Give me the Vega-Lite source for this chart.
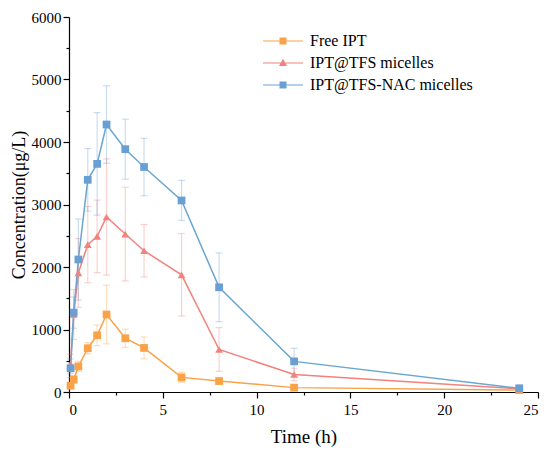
{
  "$schema": "https://vega.github.io/schema/vega-lite/v6.json",
  "width": 469,
  "height": 375,
  "autosize": "none",
  "padding": {"left": 69, "top": 17, "right": 12, "bottom": 63},
  "background": "white",
  "config": {"view": {"stroke": null}, "font": "Liberation Serif, Times New Roman, serif"},
  "data": {"values": [
    {"series": "Free IPT", "t": 0.083, "mean": 100, "sd": 30},
    {"series": "Free IPT", "t": 0.25, "mean": 200, "sd": 60},
    {"series": "Free IPT", "t": 0.5, "mean": 409, "sd": 80},
    {"series": "Free IPT", "t": 1, "mean": 700, "sd": 90},
    {"series": "Free IPT", "t": 1.5, "mean": 907, "sd": 165},
    {"series": "Free IPT", "t": 2, "mean": 1240, "sd": 470},
    {"series": "Free IPT", "t": 3, "mean": 860, "sd": 145},
    {"series": "Free IPT", "t": 4, "mean": 705, "sd": 175},
    {"series": "Free IPT", "t": 6, "mean": 234, "sd": 80},
    {"series": "Free IPT", "t": 8, "mean": 175, "sd": 30},
    {"series": "Free IPT", "t": 12, "mean": 70, "sd": 20},
    {"series": "Free IPT", "t": 24, "mean": 30, "sd": 10},
    {"series": "IPT@TFS micelles", "t": 0.083, "mean": 450, "sd": 150},
    {"series": "IPT@TFS micelles", "t": 0.25, "mean": 1240, "sd": 400},
    {"series": "IPT@TFS micelles", "t": 0.5, "mean": 1906, "sd": 550},
    {"series": "IPT@TFS micelles", "t": 1, "mean": 2357, "sd": 610},
    {"series": "IPT@TFS micelles", "t": 1.5, "mean": 2490, "sd": 580},
    {"series": "IPT@TFS micelles", "t": 2, "mean": 2800, "sd": 930},
    {"series": "IPT@TFS micelles", "t": 3, "mean": 2527, "sd": 750},
    {"series": "IPT@TFS micelles", "t": 4, "mean": 2260, "sd": 420},
    {"series": "IPT@TFS micelles", "t": 6, "mean": 1875, "sd": 660},
    {"series": "IPT@TFS micelles", "t": 8, "mean": 680, "sd": 350},
    {"series": "IPT@TFS micelles", "t": 12, "mean": 280, "sd": 100},
    {"series": "IPT@TFS micelles", "t": 24, "mean": 50, "sd": 30},
    {"series": "IPT@TFS-NAC micelles", "t": 0.083, "mean": 380, "sd": 150},
    {"series": "IPT@TFS-NAC micelles", "t": 0.25, "mean": 1270, "sd": 250},
    {"series": "IPT@TFS-NAC micelles", "t": 0.5, "mean": 2120, "sd": 650},
    {"series": "IPT@TFS-NAC micelles", "t": 1, "mean": 3395, "sd": 500},
    {"series": "IPT@TFS-NAC micelles", "t": 1.5, "mean": 3650, "sd": 820},
    {"series": "IPT@TFS-NAC micelles", "t": 2, "mean": 4280, "sd": 620},
    {"series": "IPT@TFS-NAC micelles", "t": 3, "mean": 3885, "sd": 480},
    {"series": "IPT@TFS-NAC micelles", "t": 4, "mean": 3600, "sd": 460},
    {"series": "IPT@TFS-NAC micelles", "t": 6, "mean": 3065, "sd": 320},
    {"series": "IPT@TFS-NAC micelles", "t": 8, "mean": 1675, "sd": 550},
    {"series": "IPT@TFS-NAC micelles", "t": 12, "mean": 490, "sd": 210},
    {"series": "IPT@TFS-NAC micelles", "t": 24, "mean": 60, "sd": 20}
  ]},
  "encoding": {
    "x": {
      "field": "t", "type": "quantitative",
      "scale": {"domain": [0, 25], "nice": false},
      "axis": {
        "title": "Time (h)",
        "values": [0, 2.5, 5, 7.5, 10, 12.5, 15, 17.5, 20, 22.5, 25],
        "labelExpr": "datum.value % 5 === 0 ? datum.label : ''",
        "grid": false,
        "ticks": true,
        "domainColor": "black", "domainWidth": 1.2,
        "tickColor": "black", "tickWidth": 1.2,
        "tickSize": {"condition": {"test": "datum.value % 5 === 0", "value": 6}, "value": 3},
        "labelPadding": 4,
        "labelFont": "Liberation Serif", "labelFontSize": 15, "labelColor": "black",
        "titleFont": "Liberation Serif", "titleFontSize": 19, "titleFontWeight": "normal", "titleColor": "black",
        "titlePadding": 10
      }
    },
    "y": {
      "field": "mean", "type": "quantitative",
      "scale": {"domain": [0, 6000], "nice": false},
      "axis": {
        "title": "Concentration(μg/L)",
        "values": [0, 500, 1000, 1500, 2000, 2500, 3000, 3500, 4000, 4500, 5000, 5500, 6000],
        "labelExpr": "datum.value % 1000 === 0 ? datum.label : ''",
        "format": "d",
        "grid": false,
        "ticks": true,
        "domainColor": "black", "domainWidth": 1.2,
        "tickColor": "black", "tickWidth": 1.2,
        "tickSize": {"condition": {"test": "datum.value % 1000 === 0", "value": 6}, "value": 3},
        "labelPadding": 2,
        "labelFont": "Liberation Serif", "labelFontSize": 15, "labelColor": "black",
        "titleFont": "Liberation Serif", "titleFontSize": 18, "titleFontWeight": "normal", "titleColor": "black",
        "titlePadding": 3
      }
    }
  },
  "layer": [
    {
      "mark": {"type": "errorbar", "ticks": {"size": 7}, "opacity": 0.35, "thickness": 1.2},
      "encoding": {
        "yError": {"field": "sd"},
        "color": {"field": "series", "type": "nominal", "legend": null,
          "scale": {"domain": ["Free IPT", "IPT@TFS micelles", "IPT@TFS-NAC micelles"], "range": ["#F9A248", "#F2827B", "#6A9FD3"]}}
      }
    },
    {
      "mark": {"type": "line", "strokeWidth": 1.5},
      "encoding": {
        "color": {"field": "series", "type": "nominal", "legend": null,
          "scale": {"domain": ["Free IPT", "IPT@TFS micelles", "IPT@TFS-NAC micelles"], "range": ["#F9A248", "#F2827B", "#6AA6D0"]}}
      }
    },
    {
      "mark": {"type": "point", "filled": true, "opacity": 1, "size": 60},
      "encoding": {
        "color": {"field": "series", "type": "nominal", "legend": null,
          "scale": {"domain": ["Free IPT", "IPT@TFS micelles", "IPT@TFS-NAC micelles"], "range": ["#F9A248", "#F2827B", "#6A9FD3"]}},
        "shape": {"field": "series", "type": "nominal", "legend": null,
          "scale": {"domain": ["Free IPT", "IPT@TFS micelles", "IPT@TFS-NAC micelles"], "range": ["square", "triangle-up", "square"]}}
      }
    },
    {
      "transform": [{"filter": "false"}],
      "mark": {"type": "point", "filled": true, "opacity": 1},
      "encoding": {
        "color": {"field": "series", "type": "nominal",
          "scale": {"domain": ["Free IPT", "IPT@TFS micelles", "IPT@TFS-NAC micelles"], "range": ["#F9A248", "#F2827B", "#6A9FD3"]},
          "legend": {"title": null, "orient": "none", "legendX": 203, "legendY": 13,
            "symbolSize": 400, "symbolOpacity": 1, "labelOffset": 16, "rowPadding": 3,
            "labelFont": "Liberation Serif", "labelFontSize": 16, "labelColor": "black", "labelLimit": 300}},
        "shape": {"field": "series", "type": "nominal",
          "scale": {"domain": ["Free IPT", "IPT@TFS micelles", "IPT@TFS-NAC micelles"],
            "range": ["M-2,-0.06H2V0.06H-2Z M-0.35,-0.35H0.35V0.35H-0.35Z", "M-2,-0.06H2V0.06H-2Z M0,-0.42L0.4,0.3H-0.4Z", "M-2,-0.06H2V0.06H-2Z M-0.35,-0.35H0.35V0.35H-0.35Z"]},
          "legend": {"title": null, "orient": "none", "legendX": 203, "legendY": 13,
            "symbolSize": 400, "symbolOpacity": 1, "labelOffset": 16, "rowPadding": 3,
            "labelFont": "Liberation Serif", "labelFontSize": 16, "labelColor": "black", "labelLimit": 300}}
      }
    }
  ],
  "resolve": {"scale": {"color": "independent", "shape": "independent"}}
}
